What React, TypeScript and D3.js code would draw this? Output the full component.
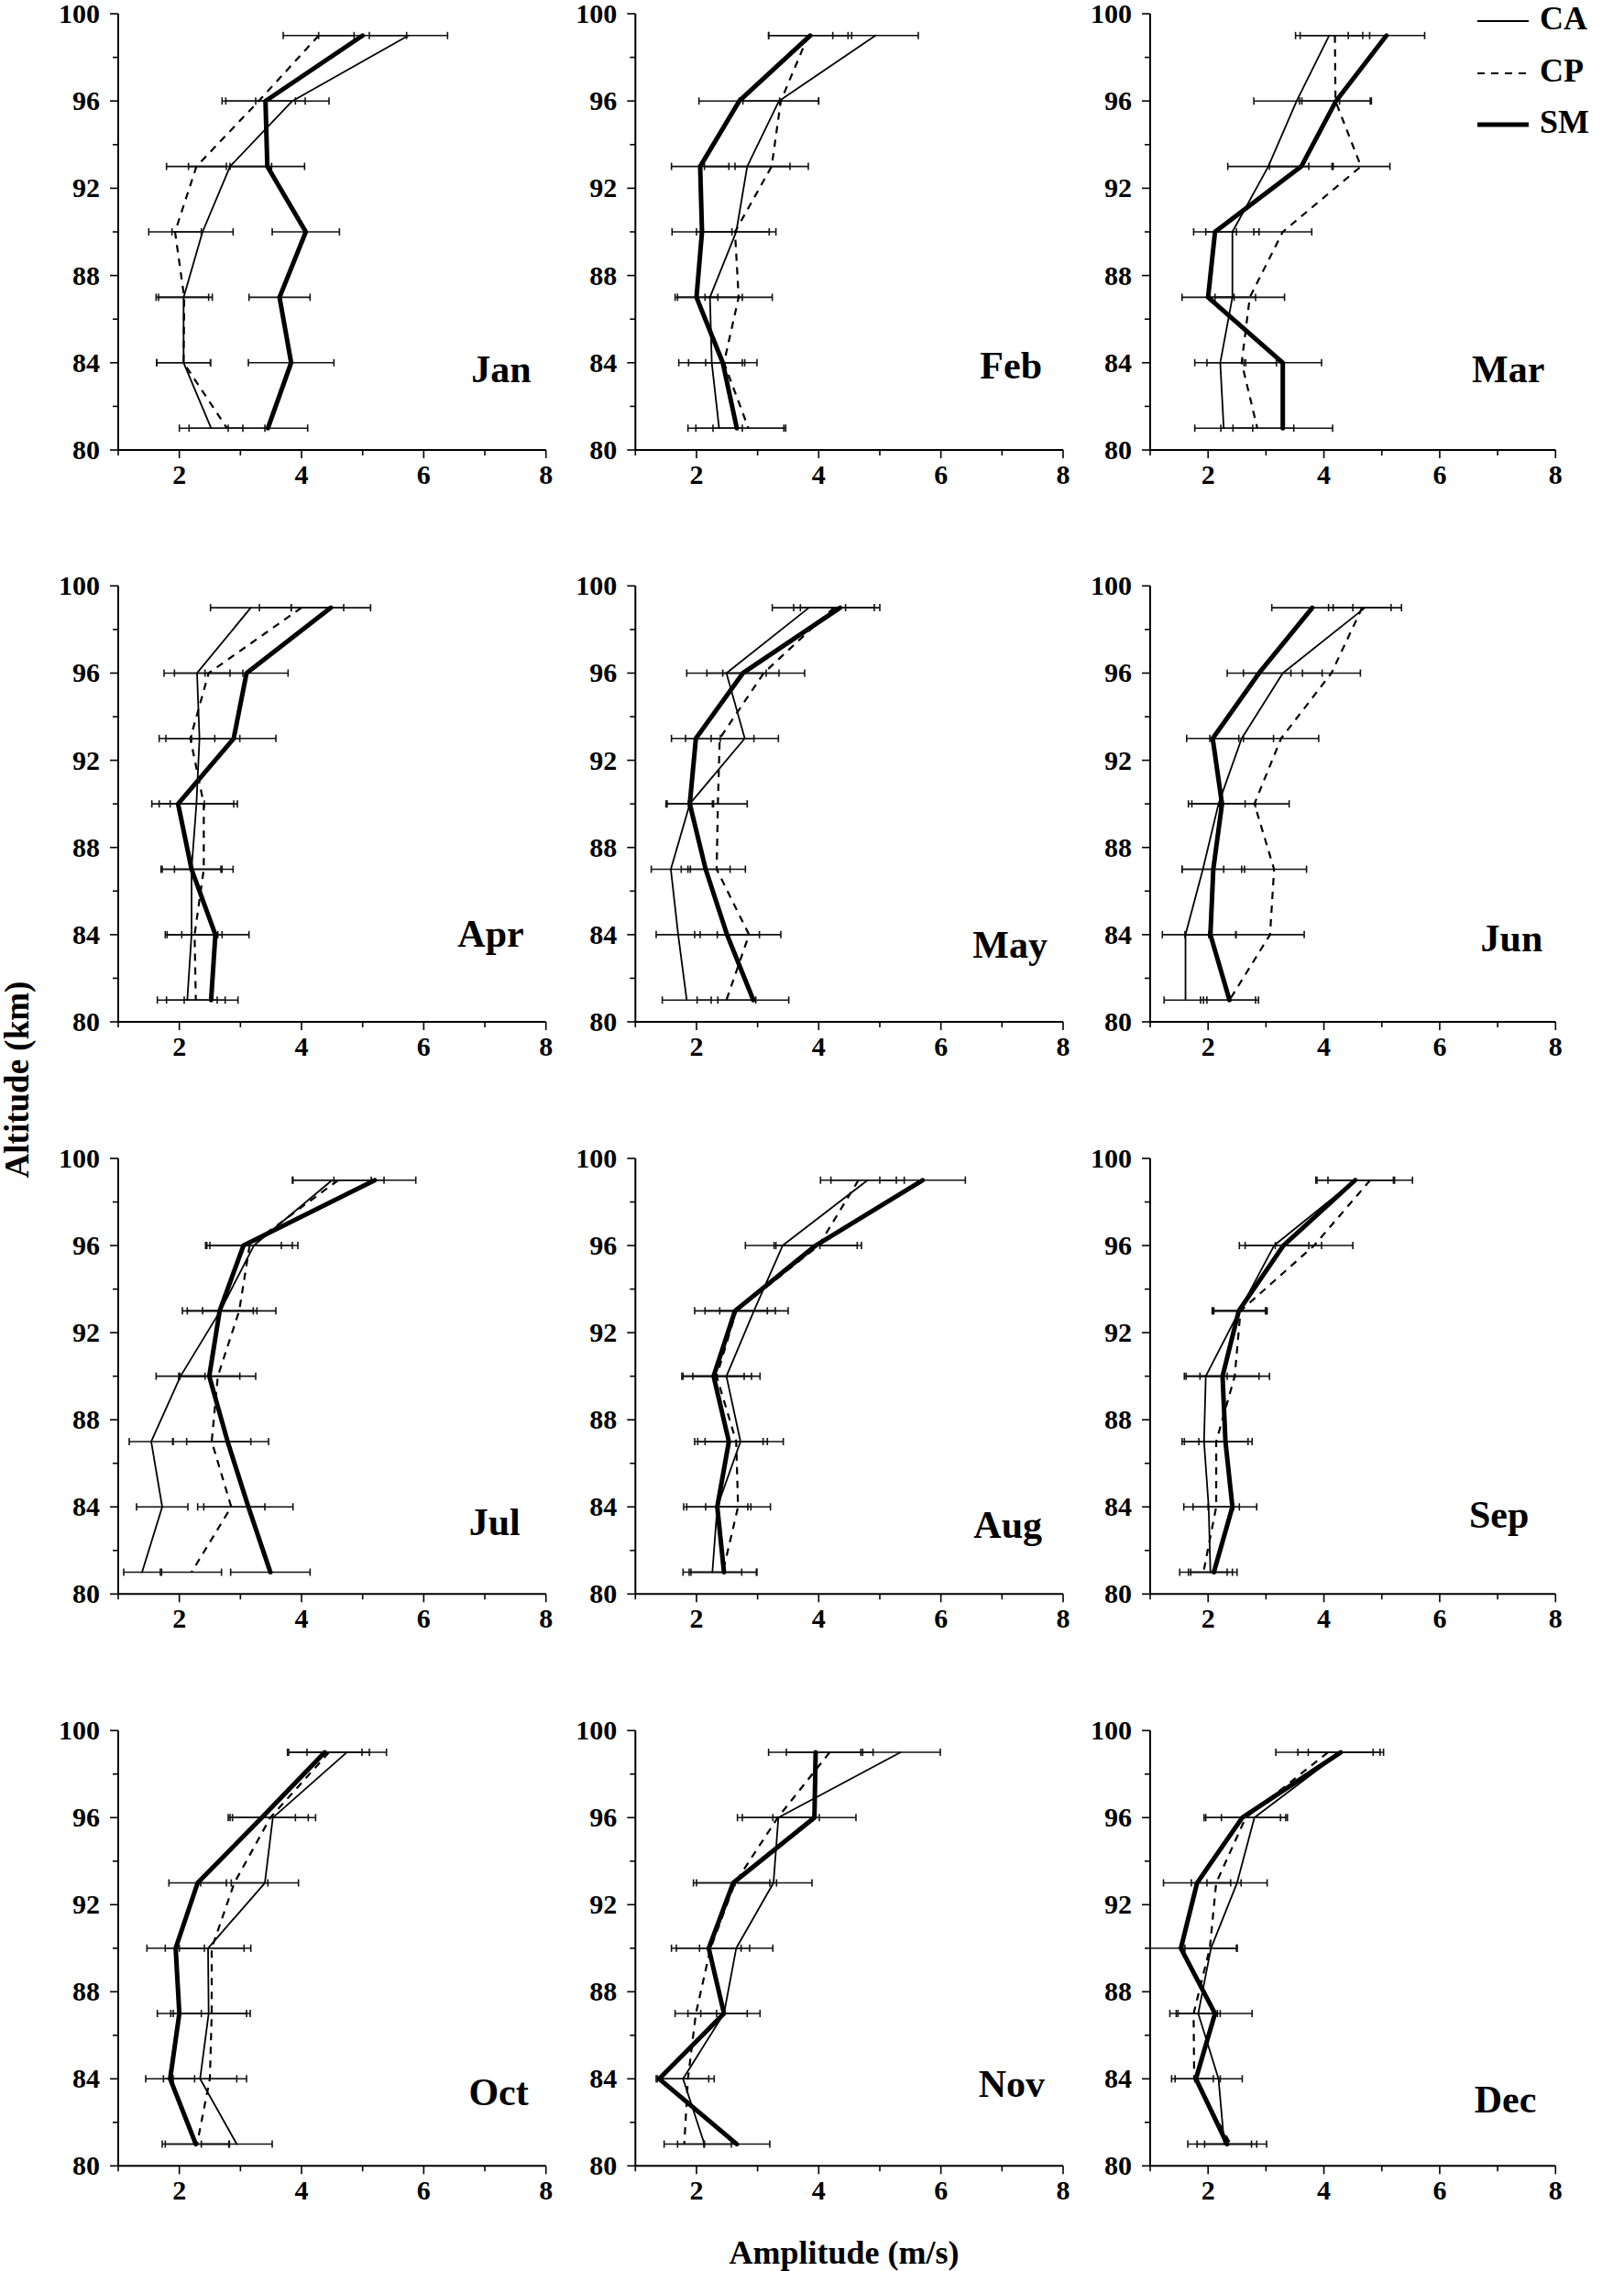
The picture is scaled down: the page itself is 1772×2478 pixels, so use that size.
import React from "react";
import * as d3 from "d3";

// ---------- DATA ----------
const MONTHS = ["Jan", "Feb", "Mar", "Apr", "May", "Jun", "Jul", "Aug", "Sep", "Oct", "Nov", "Dec"];
const ALTITUDES = [99, 96, 93, 90, 87, 84, 81];
const SERIES = ["CA", "CP", "SM"];
const X_TICKS = [1, 2, 3, 4, 5, 6, 7, 8];
const X_LABELS = [2, 4, 6, 8];
const Y_TICKS = [80, 82, 84, 86, 88, 90, 92, 94, 96, 98, 100];
const Y_LABELS = [80, 84, 88, 92, 96, 100];

// amplitude (m/s) per month, altitudes 99..81 km
const CA_VALUES = [
  [5.75, 3.85, 2.83, 2.38, 2.07, 2.07, 2.52],
  [4.93, 3.35, 2.83, 2.65, 2.22, 2.25, 2.37],
  [4.09, 3.53, 3.04, 2.42, 2.42, 2.21, 2.27],
  [3.17, 2.29, 2.33, 2.28, 2.2, 2.2, 2.13],
  [3.84, 2.49, 2.79, 1.89, 1.58, 1.7, 1.84],
  [4.71, 3.29, 2.58, 2.18, 1.91, 1.61, 1.61],
  [4.5, 3.22, 2.67, 2.02, 1.54, 1.72, 1.39],
  [4.8, 3.41, 2.94, 2.49, 2.72, 2.34, 2.26],
  [4.54, 3.14, 2.54, 1.96, 1.93, 2.01, 2.04],
  [4.74, 3.53, 3.4, 2.47, 2.48, 2.34, 2.94],
  [5.34, 3.34, 3.26, 2.65, 2.45, 1.78, 2.13],
  [4.29, 2.8, 2.5, 2.05, 1.83, 2.18, 2.28],
];
const CP_VALUES = [
  [4.28, 3.3, 2.28, 1.93, 2.08, 2.07, 2.78],
  [3.83, 3.38, 3.23, 2.63, 2.69, 2.45, 2.85],
  [4.19, 4.2, 4.64, 3.29, 2.72, 2.58, 2.85],
  [4.0, 2.48, 2.18, 2.4, 2.4, 2.25, 2.27],
  [4.25, 3.1, 2.38, 2.35, 2.33, 2.86, 2.49],
  [4.66, 4.13, 3.26, 2.8, 3.14, 3.07, 2.37],
  [4.6, 3.15, 2.98, 2.63, 2.53, 2.85, 2.2],
  [4.65, 4.0, 2.65, 2.33, 2.65, 2.68, 2.43],
  [4.8, 3.83, 2.56, 2.46, 2.14, 2.14, 1.92],
  [4.45, 3.49, 2.9, 2.53, 2.53, 2.5, 2.29],
  [4.18, 3.33, 2.63, 2.23, 1.99, 1.86, 1.8],
  [4.07, 2.65, 2.14, 2.03, 1.75, 1.76, 2.39],
];
const SM_VALUES = [
  [5.0, 3.41, 3.44, 4.07, 3.64, 3.83, 3.45],
  [3.86, 2.7, 2.06, 2.09, 2.0, 2.43, 2.66],
  [5.08, 4.21, 3.61, 2.12, 2.0, 3.29, 3.29],
  [4.48, 3.1, 2.89, 1.98, 2.2, 2.59, 2.52],
  [4.35, 2.76, 1.99, 1.89, 2.15, 2.5, 2.93],
  [3.8, 2.88, 2.08, 2.24, 2.09, 2.04, 2.37],
  [5.2, 3.05, 2.66, 2.49, 2.79, 3.13, 3.49],
  [5.7, 3.95, 2.63, 2.28, 2.53, 2.34, 2.45],
  [4.54, 3.3, 2.53, 2.25, 2.3, 2.42, 2.1],
  [4.38, 3.35, 2.3, 1.94, 2.0, 1.85, 2.27],
  [3.95, 3.93, 2.6, 2.2, 2.45, 1.39, 2.66],
  [4.29, 2.59, 1.81, 1.53, 2.12, 1.79, 2.33],
];
const CA_ERR = [
  [0.64, 0.6, 0.68, 0.5, 0.41, 0.44, 0.52],
  [0.7, 0.65, 0.7, 0.65, 0.53, 0.54, 0.38],
  [0.58, 0.74, 0.7, 0.46, 0.4, 0.44, 0.5],
  [0.66, 0.54, 0.66, 0.61, 0.5, 0.43, 0.49],
  [0.6, 0.65, 0.55, 0.39, 0.32, 0.36, 0.4],
  [0.63, 0.68, 0.55, 0.46, 0.36, 0.4, 0.37],
  [0.64, 0.72, 0.54, 0.4, 0.36, 0.42, 0.3],
  [0.6, 0.61, 0.56, 0.55, 0.7, 0.55, 0.48],
  [0.66, 0.6, 0.46, 0.37, 0.38, 0.43, 0.38],
  [0.65, 0.7, 0.55, 0.7, 0.62, 0.6, 0.58],
  [0.65, 0.67, 0.63, 0.6, 0.38, 0.42, 0.44],
  [0.56, 0.57, 0.52, 0.45, 0.38, 0.41, 0.47],
];
const CP_ERR = [
  [0.58, 0.6, 0.49, 0.43, 0.46, 0.44, 0.62],
  [0.65, 0.62, 0.6, 0.56, 0.55, 0.3, 0.58],
  [0.6, 0.62, 0.5, 0.5, 0.6, 0.6, 0.63],
  [0.69, 0.56, 0.4, 0.55, 0.48, 0.45, 0.48],
  [0.66, 0.67, 0.56, 0.48, 0.47, 0.52, 0.48],
  [0.5, 0.5, 0.65, 0.6, 0.56, 0.59, 0.5],
  [0.75, 0.7, 0.6, 0.62, 0.64, 0.55, 0.49],
  [0.62, 0.7, 0.51, 0.57, 0.51, 0.53, 0.55],
  [0.73, 0.67, 0.46, 0.6, 0.55, 0.4, 0.41],
  [0.66, 0.62, 0.55, 0.53, 0.63, 0.6, 0.52],
  [0.71, 0.58, 0.68, 0.64, 0.34, 0.43, 0.33],
  [0.9, 0.69, 0.43, 0.47, 0.41, 0.33, 0.45],
];
const SM_ERR = [
  [0.72, 0.65, 0.61, 0.55, 0.5, 0.7, 0.65],
  [0.68, 0.66, 0.47, 0.49, 0.35, 0.56, 0.8],
  [0.66, 0.59, 0.55, 0.37, 0.45, 0.67, 0.86],
  [0.65, 0.68, 0.69, 0.43, 0.48, 0.55, 0.44],
  [0.65, 0.59, 0.4, 0.37, 0.4, 0.53, 0.58],
  [0.7, 0.55, 0.45, 0.58, 0.54, 0.44, 0.45],
  [0.67, 0.62, 0.61, 0.5, 0.67, 0.73, 0.65],
  [0.7, 0.68, 0.66, 0.5, 0.56, 0.5, 0.54],
  [0.68, 0.66, 0.46, 0.63, 0.46, 0.42, 0.4],
  [0.61, 0.55, 0.47, 0.47, 0.36, 0.4, 0.55],
  [0.77, 0.68, 0.6, 0.53, 0.59, 0.05, 0.54],
  [0.74, 0.66, 0.58, 0.96, 0.64, 0.42, 0.68],
];

// ---------- LAYOUT ----------
const W = 1772;
const H = 2478;
const FONT = '"Liberation Serif", "Times New Roman", Times, serif';
const COLS = [
  { x0: 129, x1: 595.7 },
  { x0: 693.3, x1: 1160 },
  { x0: 1255, x1: 1697.3 },
];
const ROWS = [
  { top: 15, bottom: 491 },
  { top: 639.3, bottom: 1115 },
  { top: 1264, bottom: 1739.3 },
  { top: 1888.3, bottom: 2363.3 },
];
// month label: right-edge offset from axis end, baseline height above x-axis
const MONTH_LABEL_POS = [
  [16, 74], [23, 78], [12, 74],
  [24, 82], [17, 70], [14, 77],
  [28, 64], [23, 61], [29, 72],
  [19, 66], [20, 75], [21, 58],
];
const STYLE = {
  CA: { width: 1.8, dash: null },
  CP: { width: 2.2, dash: "8,7" },
  SM: { width: 5, dash: null },
};

const VALUES = { CA: CA_VALUES, CP: CP_VALUES, SM: SM_VALUES };
const ERRS = { CA: CA_ERR, CP: CP_ERR, SM: SM_ERR };

function Panel({ m }: { m: number }) {
  const col = m % 3;
  const row = Math.floor(m / 3);
  const { x0, x1 } = COLS[col];
  const { top, bottom } = ROWS[row];
  const xs = d3.scaleLinear().domain([1, 8]).range([x0, x1]);
  const ys = d3.scaleLinear().domain([80, 100]).range([bottom, top]);
  const line = d3
    .line<number>()
    .x((v) => xs(v))
    .y((_, i) => ys(ALTITUDES[i]));
  const capH = 4;

  return (
    <g>
      {/* error bars */}
      {SERIES.map((s) =>
        ALTITUDES.map((alt, i) => {
          const v = VALUES[s][m][i];
          const e = ERRS[s][m][i];
          const lo = Math.max(1, v - e);
          const hi = Math.min(8, v + e);
          const y = ys(alt);
          return (
            <g key={`${s}-${i}`} stroke="#111" strokeWidth={1.6}>
              <line x1={xs(lo)} x2={xs(hi)} y1={y} y2={y} />
              {v - e >= 1 && <line x1={xs(lo)} x2={xs(lo)} y1={y - capH} y2={y + capH} />}
              {v + e <= 8 && <line x1={xs(hi)} x2={xs(hi)} y1={y - capH} y2={y + capH} />}
            </g>
          );
        })
      )}
      {/* profiles */}
      {SERIES.map((s) => (
        <path
          key={s}
          d={line(VALUES[s][m]) || ""}
          fill="none"
          stroke="#000"
          strokeWidth={STYLE[s].width}
          strokeDasharray={STYLE[s].dash || undefined}
          strokeLinejoin="round"
          strokeLinecap={s === "CP" ? "butt" : "round"}
        />
      ))}
      {/* axes */}
      <line x1={x0} x2={x0} y1={top} y2={bottom} stroke="#000" strokeWidth={2} />
      <line x1={x0} x2={x1} y1={bottom} y2={bottom} stroke="#000" strokeWidth={2} />
      {Y_TICKS.map((t) => {
        const major = Y_LABELS.includes(t);
        return (
          <line
            key={`yt${t}`}
            x1={x0 - (major ? 9 : 6)}
            x2={x0}
            y1={ys(t)}
            y2={ys(t)}
            stroke="#000"
            strokeWidth={1.6}
          />
        );
      })}
      {X_TICKS.map((t) => {
        const major = X_LABELS.includes(t);
        return (
          <line
            key={`xt${t}`}
            x1={xs(t)}
            x2={xs(t)}
            y1={bottom}
            y2={bottom + (major ? 9 : 6)}
            stroke="#000"
            strokeWidth={1.6}
          />
        );
      })}
      {Y_LABELS.map((t) => (
        <text
          key={`yl${t}`}
          x={x0 - 20}
          y={ys(t) + 10}
          textAnchor="end"
          fontFamily={FONT}
          fontWeight="bold"
          fontSize={30}
        >
          {t}
        </text>
      ))}
      {X_LABELS.map((t) => (
        <text
          key={`xl${t}`}
          x={xs(t)}
          y={bottom + 37}
          textAnchor="middle"
          fontFamily={FONT}
          fontWeight="bold"
          fontSize={30}
        >
          {t}
        </text>
      ))}
      <text
        x={x1 - MONTH_LABEL_POS[m][0]}
        y={bottom - MONTH_LABEL_POS[m][1]}
        textAnchor="end"
        fontFamily={FONT}
        fontWeight="bold"
        fontSize={42}
      >
        {MONTHS[m]}
      </text>
    </g>
  );
}

function Legend() {
  const lx0 = 1612;
  const lx1 = 1668;
  const rowsY = [23, 80, 136];
  return (
    <g>
      {SERIES.map((s, i) => (
        <g key={s}>
          <line
            x1={lx0}
            x2={lx1}
            y1={rowsY[i]}
            y2={rowsY[i]}
            stroke="#000"
            strokeWidth={STYLE[s].width}
            strokeDasharray={STYLE[s].dash || undefined}
          />
          <text x={1680} y={rowsY[i] + 9} fontFamily={FONT} fontWeight="bold" fontSize={36}>
            {s}
          </text>
        </g>
      ))}
    </g>
  );
}

export default function App() {
  return (
    <svg
      width={W}
      height={H}
      viewBox={`0 0 ${W} ${H}`}
      style={{ position: "absolute", left: 0, top: 0, background: "#fff" }}
    >
      <rect x={0} y={0} width={W} height={H} fill="#fff" />
      {MONTHS.map((_, m) => (
        <Panel key={m} m={m} />
      ))}
      <Legend />
      <text
        transform="translate(31,1178) rotate(-90)"
        textAnchor="middle"
        fontFamily={FONT}
        fontWeight="bold"
        fontSize={37}
      >
        Altitude (km)
      </text>
      <text x={921} y={2470} textAnchor="middle" fontFamily={FONT} fontWeight="bold" fontSize={36}>
        Amplitude (m/s)
      </text>
    </svg>
  );
}
